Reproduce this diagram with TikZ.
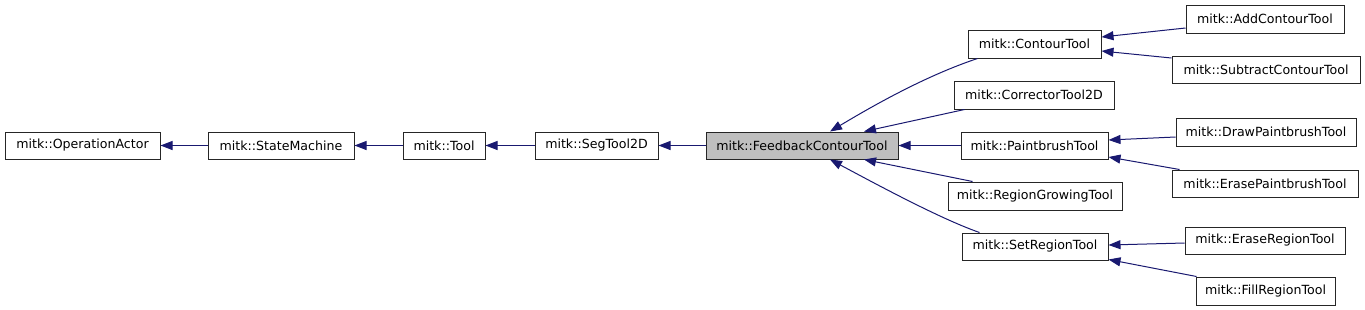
\documentclass[tikz,border=0pt]{standalone}
\usepackage{fontspec}
\setmainfont{DejaVu Sans}
\usetikzlibrary{arrows.meta}
\definecolor{edgeblue}{RGB}{25,25,112}
\definecolor{fillgray}{RGB}{191,191,191}
\tikzset{
  cls/.style={draw=black!85, line width=1pt, fill=white, inner sep=0pt, minimum height=27pt, font=\fontsize{12.6}{14}\selectfont},
  edge/.style={draw=edgeblue, line width=1pt, -{Triangle[length=12pt,width=9pt]}}
}
\begin{document}
\begin{tikzpicture}[x=1pt,y=-1pt]
\useasboundingbox (0,0) rectangle (1365,309);
\node[cls, minimum width=155pt] (oa) at (82.5,145.5) {mitk::OperationActor};
\node[cls, minimum width=146pt] (sm) at (281,145.5) {mitk::StateMachine};
\node[cls, minimum width=82pt] (tool) at (444,145.5) {mitk::Tool};
\node[cls, minimum width=123pt] (seg) at (596.5,145.5) {mitk::SegTool2D};
\node[cls, minimum width=192pt, fill=fillgray] (fct) at (802,145.5) {mitk::FeedbackContourTool};
\node[cls, minimum width=133pt, minimum height=28pt] (ct) at (1034.5,44) {mitk::ContourTool};
\node[cls, minimum width=160pt, minimum height=28pt] (ctd) at (1034,95) {mitk::CorrectorTool2D};
\node[cls, minimum width=147pt] (pt) at (1034.5,145.5) {mitk::PaintbrushTool};
\node[cls, minimum width=174pt, minimum height=28pt] (rgt) at (1035,196) {mitk::RegionGrowingTool};
\node[cls, minimum width=146pt] (srt) at (1035,246.5) {mitk::SetRegionTool};
\node[cls, minimum width=158pt, minimum height=28pt] (act) at (1265,19) {mitk::AddContourTool};
\node[cls, minimum width=188pt] (sct) at (1266,69.5) {mitk::SubtractContourTool};
\node[cls, minimum width=180pt, minimum height=28pt] (dpt) at (1266,132) {mitk::DrawPaintbrushTool};
\node[cls, minimum width=186pt] (ept) at (1265,183.5) {mitk::ErasePaintbrushTool};
\node[cls, minimum width=160pt] (ert) at (1265,240.5) {mitk::EraseRegionTool};
\node[cls, minimum width=139pt, minimum height=28pt] (frt) at (1265.5,291) {mitk::FillRegionTool};
% edges (child -> parent)
\draw[edge] (sm.west) -- (oa.east);
\draw[edge] (tool.west) -- (sm.east);
\draw[edge] (seg.west) -- (tool.east);
\draw[edge] (fct.west) -- (seg.east);
\draw[edge] ([xshift=10pt]ct.south west) .. controls +(-48,16) and +(50,-30) .. ([xshift=28pt]fct.north);
\draw[edge] ([xshift=11pt]ctd.south west) -- ([xshift=62pt]fct.north);
\draw[edge] (pt.west) -- (fct.east);
\draw[edge] ([xshift=25pt]rgt.north west) -- ([xshift=62pt]fct.south);
\draw[edge] ([xshift=18pt]srt.north west) .. controls +(-40,-14) and +(45,24) .. ([xshift=28pt]fct.south);
\draw[edge] ([yshift=-9pt]act.west) -- ([yshift=7pt]ct.east);
\draw[edge] ([yshift=11.5pt]sct.west) -- ([yshift=-7pt]ct.east);
\draw[edge] ([yshift=-5pt]dpt.west) -- ([yshift=5.5pt]pt.east);
\draw[edge] ([xshift=8pt]ept.north west) -- ([yshift=-11.5pt]pt.east);
\draw[edge] ([yshift=-2.5pt]ert.west) -- ([yshift=1.5pt]srt.east);
\draw[edge] ([xshift=1pt]frt.north west) -- ([yshift=1pt]srt.south east);
\end{tikzpicture}
\end{document}
